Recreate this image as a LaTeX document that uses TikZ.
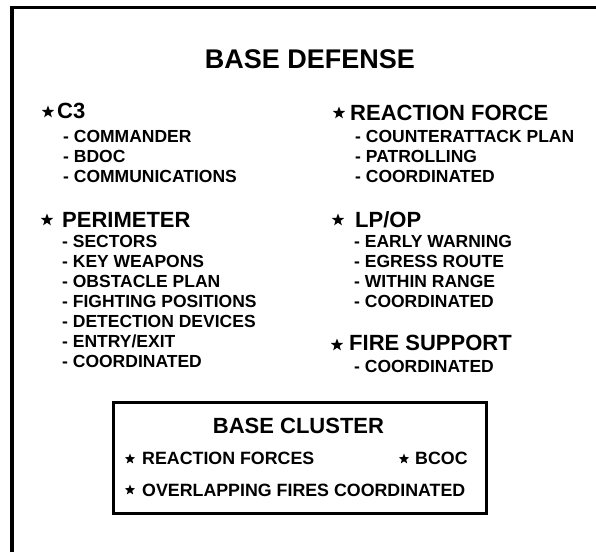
\documentclass[tikz,border=0pt]{standalone}
\usepackage{fontspec}
\setmainfont{Liberation Sans}
\usetikzlibrary{shapes.geometric}
\begin{document}
\begin{tikzpicture}[x=1pt,y=-1pt,
  title/.style={anchor=base, inner sep=0pt, font=\bfseries\fontsize{27}{30}\selectfont},
  head/.style={anchor=base west, inner sep=0pt, font=\bfseries\fontsize{22}{24}\selectfont},
  item/.style={anchor=base west, inner sep=0pt, font=\bfseries\fontsize{17.5}{20}\selectfont},
  boxitem/.style={anchor=base west, inner sep=0pt, font=\bfseries\fontsize{17.8}{20}\selectfont},
  bullet/.style={star, star points=5, star point ratio=2.4, fill=black, draw=none,
    inner sep=0pt, minimum size=13pt},
  smallbullet/.style={bullet, minimum size=11pt},
  frameline/.style={line width=3.2pt, line join=miter},
]
\useasboundingbox (0,0) rectangle (596,552);

% page frame: top rule and left rule
\draw[frameline] (12,552) -- (12,7.5) -- (596,7.5);

\node[title] (ttl) at (310,68) {BASE DEFENSE};

% C3
\node[bullet] (s1) at (48,112) {};
\node[head] (c3) at (57,118) {C3};
\node[item] (c3a) at (63,142) {- COMMANDER};
\node[item] (c3b) at (63,162) {- BDOC};
\node[item] (c3c) at (63,182) {- COMMUNICATIONS};

% Reaction force
\node[bullet] (s2) at (339,113) {};
\node[head] (rf) at (350,120) {REACTION FORCE};
\node[item] (rfa) at (355,142) {- COUNTERATTACK PLAN};
\node[item] (rfb) at (355,162) {- PATROLLING};
\node[item] (rfc) at (355,182) {- COORDINATED};

% Perimeter
\node[bullet] (s3) at (47,220) {};
\node[head] (pm) at (62,227) {PERIMETER};
\node[item] (pma) at (62,247) {- SECTORS};
\node[item] (pmb) at (62,267) {- KEY WEAPONS};
\node[item] (pmc) at (62,287) {- OBSTACLE PLAN};
\node[item] (pmd) at (62,307) {- FIGHTING POSITIONS};
\node[item] (pme) at (62,327) {- DETECTION DEVICES};
\node[item] (pmf) at (62,347) {- ENTRY/EXIT};
\node[item] (pmg) at (62,367) {- COORDINATED};

% LP/OP
\node[bullet] (s4) at (338,220) {};
\node[head] (lp) at (355,227) {LP/OP};
\node[item] (lpa) at (354,247) {- EARLY WARNING};
\node[item] (lpb) at (354,267) {- EGRESS ROUTE};
\node[item] (lpc) at (354,287) {- WITHIN RANGE};
\node[item] (lpd) at (354,307) {- COORDINATED};

% Fire support
\node[bullet] (s5) at (337,345) {};
\node[head] (fs) at (349,350) {FIRE SUPPORT};
\node[item] (fsa) at (354,372) {- COORDINATED};

% Base cluster box
\node[draw, line width=2.6pt, anchor=north west, inner sep=0pt,
  minimum width=373pt, minimum height=111pt] (cluster) at (112,401) {};
\node[anchor=base, inner sep=0pt, font=\bfseries\fontsize{22}{24}\selectfont]
  (bc) at (298.5,433) {BASE CLUSTER};
\node[smallbullet] (s6) at (130,459) {};
\node[boxitem] (bca) at (142,464) {REACTION FORCES};
\node[smallbullet] (s7) at (404,459) {};
\node[boxitem] (bcb) at (415,464) {BCOC};
\node[smallbullet] (s8) at (130,490) {};
\node[boxitem] (bcc) at (142,496) {OVERLAPPING FIRES COORDINATED};
\end{tikzpicture}
\end{document}
